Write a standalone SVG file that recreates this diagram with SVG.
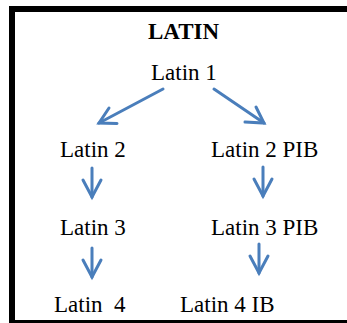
<svg xmlns="http://www.w3.org/2000/svg" width="347" height="323" viewBox="0 0 347 323">
<style>
text{font-family:'Liberation Serif','DejaVu Serif',serif;font-size:23px;fill:#000}
.b{font-weight:bold}
.c line,.c polyline{stroke:#4a7ebb;stroke-width:3;fill:none;stroke-linecap:round;stroke-linejoin:miter}
</style>
<rect width="347" height="323" fill="#fff"/>
<g id="frame">
<line x1="9" y1="9" x2="347" y2="9" stroke="#000" stroke-width="6"/>
<line x1="12" y1="6" x2="12" y2="323" stroke="#000" stroke-width="6"/>
<line x1="9" y1="321.5" x2="347" y2="321.5" stroke="#000" stroke-width="3"/>
</g>
<g id="title"><text class="b" x="148" y="39">LATIN</text></g>
<g id="latin1"><text x="151" y="80">Latin 1</text></g>
<g id="latin2"><text x="60" y="157">Latin 2</text></g>
<g id="latin2pib"><text x="211" y="157">Latin 2 PIB</text></g>
<g id="latin3"><text x="60" y="235">Latin 3</text></g>
<g id="latin3pib"><text x="211" y="235">Latin 3 PIB</text></g>
<g id="latin4"><text x="54" y="311.5" xml:space="preserve">Latin  4</text></g>
<g id="latin4ib"><text x="180" y="311.5">Latin 4 IB</text></g>
<g class="c" id="connectors">
<line x1="163" y1="89" x2="99" y2="123"/>
<polyline points="109,108 99,123 117,123.5"/>
<line x1="214" y1="89" x2="264" y2="123"/>
<polyline points="256,107 264,123 245,122"/>
<line x1="92" y1="168" x2="92" y2="197"/>
<polyline points="83,180 92,197 101,180"/>
<line x1="263" y1="167" x2="263" y2="196"/>
<polyline points="254,179 263,196 272,179"/>
<line x1="92" y1="248" x2="92" y2="277"/>
<polyline points="83,260 92,277 101,260"/>
<line x1="259" y1="244" x2="259" y2="273"/>
<polyline points="250,256 259,273 268,256"/>
</g>
</svg>
